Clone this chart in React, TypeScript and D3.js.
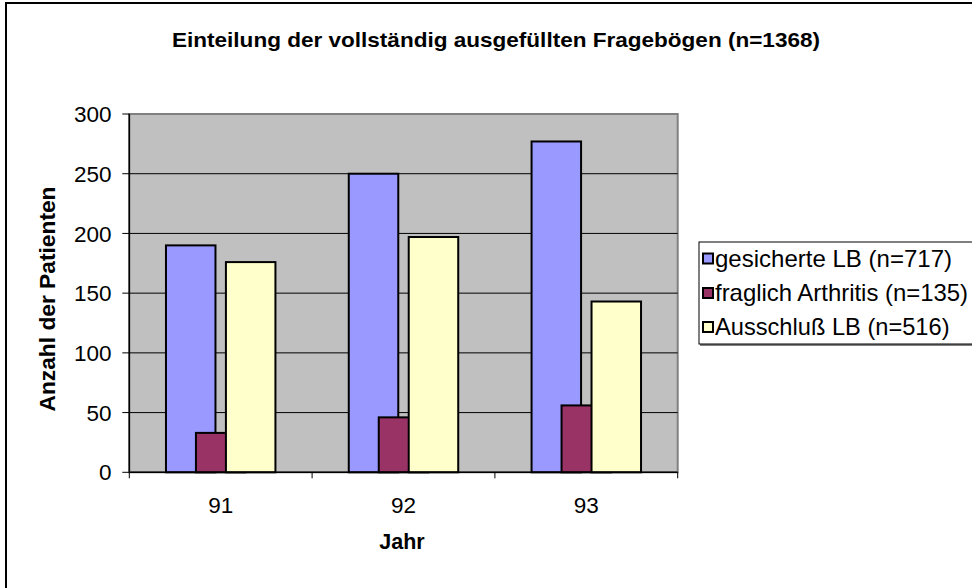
import React from "react";
import * as d3 from "d3";

const categories = ["91", "92", "93"];
const seriesNames = [
  "gesicherte LB (n=717)",
  "fraglich Arthritis (n=135)",
  "Ausschluß LB (n=516)",
];
const gesicherte = [190, 250, 277];
const fraglich = [33, 46, 56];
const ausschluss = [176, 197, 143];
const yTicks = [0, 50, 100, 150, 200, 250, 300];
const colors = ["#9999FF", "#993366", "#FFFFCC"];

const W = 972;
const H = 588;
const font = "'Liberation Sans', Arial, sans-serif";

export default function App() {
  const series = [gesicherte, fraglich, ausschluss];
  const left = 129.3, right = 677.7, top = 114, bottom = 472.3;
  const x = d3.scaleBand<string>().domain(categories).range([left, right]).padding(0);
  const y = d3.scaleLinear().domain([0, 300]).range([bottom, top]);
  const bw = x.bandwidth();
  const barW = bw * 0.2708;
  const step = bw * 0.164;
  const groupW = barW + step * 2;
  const off = (bw - groupW) / 2;

  const boundaries = [...categories.map((c) => x(c) as number), right];
  const legendWidths = [237, 253, 234.5];
  const legendBase = [266.5, 301, 335];

  return (
    <svg width={W} height={H} style={{ position: "absolute", left: 0, top: 0, background: "#fff" }}>
      <rect x={0} y={0} width={W} height={H} fill="#fff" />
      {/* outer frame */}
      <rect x={6} y={3} width={W + 20} height={H + 20} fill="none" stroke="#000" strokeWidth={2} />
      {/* title */}
      <text x={496} y={46.7} textAnchor="middle" fontFamily={font} fontWeight="bold" fontSize={20.5} fill="#000" textLength={648} lengthAdjust="spacingAndGlyphs">
        Einteilung der vollständig ausgefüllten Fragebögen (n=1368)
      </text>
      {/* plot area */}
      <rect x={left} y={top} width={right - left} height={bottom - top} fill="#C0C0C0" stroke="#808080" strokeWidth={2} />
      {yTicks.filter((t) => t > 0 && t < 300).map((t) => (
        <line key={t} x1={left} x2={right} y1={y(t)} y2={y(t)} stroke="#000" strokeWidth={1} />
      ))}
      {/* bars */}
      {series.map((vals, si) =>
        categories.map((c, ci) => (
          <rect
            key={`${si}-${ci}`}
            x={(x(c) as number) + off + si * step}
            y={y(vals[ci])}
            width={barW}
            height={y(0) - y(vals[ci])}
            fill={colors[si]}
            stroke="#000"
            strokeWidth={2}
          />
        ))
      )}
      {/* axes */}
      <line x1={left} x2={left} y1={top} y2={bottom} stroke="#000" strokeWidth={1.5} />
      <line x1={left} x2={right} y1={bottom} y2={bottom} stroke="#000" strokeWidth={1.5} />
      {yTicks.map((t) => (
        <g key={t}>
          <line x1={left - 7} x2={left} y1={y(t)} y2={y(t)} stroke="#000" strokeWidth={1} />
          <text x={111.5} y={y(t)} dy="0.36em" textAnchor="end" fontFamily={font} fontSize={22.5} fill="#000">
            {t}
          </text>
        </g>
      ))}
      {boundaries.map((b, i) => (
        <line key={i} x1={b} x2={b} y1={bottom} y2={bottom + 6} stroke="#000" strokeWidth={1} />
      ))}
      {categories.map((c) => (
        <text key={c} x={(x(c) as number) + bw / 2} y={513.3} textAnchor="middle" fontFamily={font} fontSize={22.5} fill="#000">
          {c}
        </text>
      ))}
      {/* axis titles */}
      <text x={402} y={549} textAnchor="middle" fontFamily={font} fontWeight="bold" fontSize={21.5} fill="#000">
        Jahr
      </text>
      <text transform="translate(55,299) rotate(-90)" textAnchor="middle" fontFamily={font} fontWeight="bold" fontSize={22} fill="#000" textLength={225} lengthAdjust="spacingAndGlyphs">
        Anzahl der Patienten
      </text>
      {/* legend */}
      <rect x={700} y={244} width={290} height={102} fill="#808080" />
      <rect x={699} y={242} width={290} height={102} fill="#fff" stroke="#000" strokeWidth={1} />
      {seriesNames.map((n, i) => (
        <g key={n}>
          <rect x={703} y={legendBase[i] - 13} width={10} height={10} fill={colors[i]} stroke="#000" strokeWidth={2} />
          <text x={715} y={legendBase[i]} fontFamily={font} fontSize={24} fill="#000" textLength={legendWidths[i]} lengthAdjust="spacingAndGlyphs">
            {n}
          </text>
        </g>
      ))}
    </svg>
  );
}
